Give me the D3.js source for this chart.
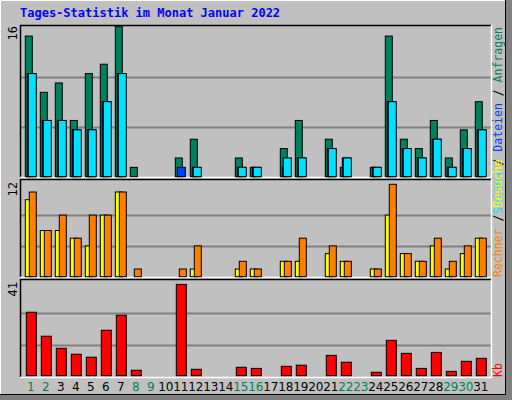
<!DOCTYPE html><html><head><meta charset="utf-8">
<script src="https://cdn.jsdelivr.net/npm/d3@7"></script>
<style>body{margin:0;background:#fff}</style></head><body>
<script>
const days = d3.range(1,32);
const weekend = [1,2,8,9,15,16,22,23,29,30];
const anfragen = [15,9,10,6,11,12,16,1,0,0,2,4,0,0,2,1,0,3,6,0,4,1,0,1,15,4,3,6,2,5,8];
const dateien  = [11,6,6,5,5,8,11,0,0,0,1,1,0,0,1,1,0,1,2,0,3,2,0,1,8,3,2,4,1,3,5];
const seiten   = [11,6,6,5,5,8,11,0,0,0,0,1,0,0,1,1,0,2,2,0,3,2,0,1,8,3,2,4,1,3,5];
const rechner  = [10,6,6,5,4,8,11,0,0,0,0,1,0,0,1,1,0,2,2,0,3,2,0,1,8,3,2,4,1,3,5];
const besuche  = [11,6,8,5,8,8,11,1,0,0,1,4,0,0,2,1,0,2,5,0,4,2,0,1,12,3,2,5,2,4,5];
const kb       = [27.8,17.3,12,9.4,8.1,19.9,26.5,2.4,0,0,40,2.8,0,0,3.7,3.2,0,4.1,4.6,0,8.9,5.9,0,1.5,15.5,9.8,3.2,10.2,1.9,6.3,7.6];
const maxTop=16, maxMid=12, maxBot=41;

const W=512,H=400;
const svg=d3.select("body").append("svg").attr("width",W).attr("height",H);
svg.append("rect").attr("x",0).attr("y",0).attr("width",W).attr("height",H).attr("fill","#808080");
svg.append("rect").attr("x",0).attr("y",0).attr("width",505).attr("height",394).attr("fill","#c0c0c0");
svg.append("line").attr("x1",0).attr("y1",0.5).attr("x2",505).attr("y2",0.5).attr("stroke","#fff");
svg.append("line").attr("x1",0.5).attr("y1",0).attr("x2",0.5).attr("y2",394).attr("stroke","#fff");
svg.append("line").attr("x1",505.5).attr("y1",0).attr("x2",505.5).attr("y2",395).attr("stroke","#000");
svg.append("line").attr("x1",0).attr("y1",394.5).attr("x2",506).attr("y2",394.5).attr("stroke","#000");

svg.append("text").attr("x",20).attr("y",17).attr("font-family","DejaVu Sans Mono, monospace")
  .attr("font-size",12).attr("font-weight","bold").attr("fill","#0000ff").text("Tages-Statistik im Monat Januar 2022");

const x=d3.scaleBand().domain(days).range([22.3,487.3]).padding(0);
const X0=20,X1=491;
const panels=[{top:25,bot:177,zero:176.7,one:26.7,max:maxTop},
              {top:179,bot:277,zero:276.7,one:184.3,max:maxMid},
              {top:279,bot:377,zero:375.7,one:282.1,max:maxBot}];
panels.forEach(p=>{
  p.y=d3.scaleLinear().domain([0,p.max]).range([p.zero,p.one]);
  [p.max/3,2*p.max/3].forEach(v=>{
    svg.append("line").attr("x1",X0).attr("x2",X1).attr("y1",Math.round(p.y(v))+0.5).attr("y2",Math.round(p.y(v))+0.5).attr("stroke","#808080").attr("stroke-width",2);
  });
  svg.append("line").attr("x1",X0).attr("x2",X1).attr("y1",p.top+0.5).attr("y2",p.top+0.5).attr("stroke","#000").attr("stroke-width",1.5);
  svg.append("line").attr("x1",X0+0.5).attr("x2",X0+0.5).attr("y1",p.top).attr("y2",p.bot).attr("stroke","#000").attr("stroke-width",1.5);
  svg.append("line").attr("x1",X0).attr("x2",X1).attr("y1",p.bot+0.5).attr("y2",p.bot+0.5).attr("stroke","#fff").attr("stroke-width",1.5);
  svg.append("line").attr("x1",X1+0.5).attr("x2",X1+0.5).attr("y1",p.top).attr("y2",p.bot+1).attr("stroke","#fff").attr("stroke-width",1.5);
});

function bars(data,p,off,w,color){
  svg.append("g").selectAll("rect").data(days.filter((d,i)=>data[i]>0)).join("rect")
    .attr("x",d=>x(d)+off).attr("width",w)
    .attr("y",d=>p.y(data[d-1])).attr("height",d=>p.zero-p.y(data[d-1]))
    .attr("fill",color).attr("stroke","#000").attr("stroke-width",1);
}
bars(anfragen,panels[0],3,7,"#00805c");
bars(dateien,panels[0],5,8,"#0040ff");
bars(seiten,panels[0],6,8,"#00e0ff");
bars(rechner,panels[1],3,7,"#ffff00");
bars(besuche,panels[1],7,7,"#ff8000");
bars(kb,panels[2],4,10,"#ff0000");

svg.append("g").selectAll("text").data(days).join("text")
  .attr("x",d=>x(d)+8.5).attr("y",391).attr("text-anchor","middle")
  .attr("font-family","DejaVu Sans, sans-serif").attr("font-size",12)
  .attr("fill",d=>weekend.includes(d)?"#00805c":"#000").text(d=>d);

const mono="DejaVu Sans Mono, monospace";
[[maxTop,26],[maxMid,182],[maxBot,282]].forEach(([v,yy])=>{
  svg.append("text").attr("transform",`translate(17,${yy}) rotate(-90)`).attr("text-anchor","end")
    .attr("font-family",mono).attr("font-size",12).attr("fill","#000").text(v);
});
function rlabel(y,anchor,parts){
  const t=svg.append("text").attr("transform",`translate(502,${y}) rotate(-90)`).attr("text-anchor",anchor)
    .attr("font-family",mono).attr("font-size",11.5);
  parts.forEach(([s,c])=>t.append("tspan").attr("fill",c).text(s));
}
rlabel(27,"end",[["Seiten","#00e0ff"],[" / ","#000"],["Dateien","#0040ff"],[" / ","#000"],["Anfragen","#00805c"]]);
rlabel(277,"start",[["Rechner","#ff8000"],[" / ","#000"],["Besuche","#ffff00"]]);
rlabel(377,"start",[["Kb","#ff0000"]]);
</script></body></html>
